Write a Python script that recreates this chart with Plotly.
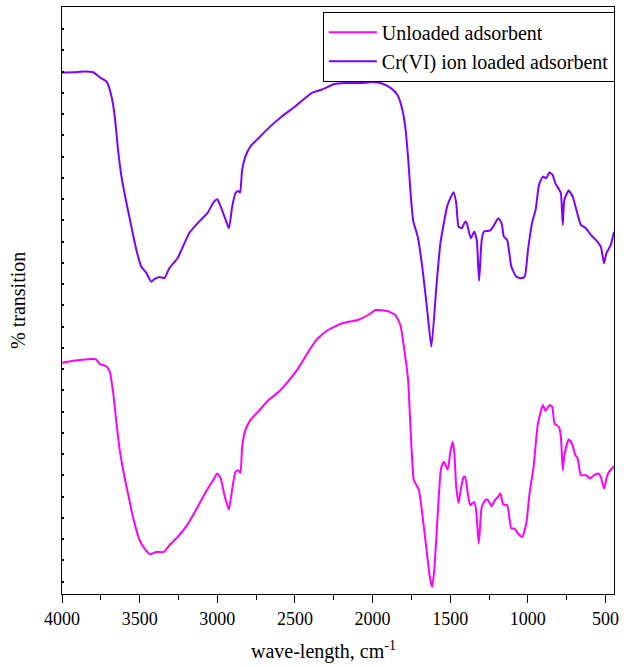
import plotly.graph_objects as go

# ---- data (wavenumber, cm^-1) and transmittance (arbitrary units) ----
wn_loaded = [4000, 3926, 3851, 3800, 3755, 3713, 3681, 3660, 3639, 3617, 3585, 3553, 3521,
             3489, 3457, 3425, 3404, 3372, 3340, 3308, 3255, 3180, 3117, 3064, 3021, 3000,
             2978, 2946, 2925, 2904, 2883, 2866, 2853, 2840, 2819, 2787, 2734, 2670, 2585,
             2499, 2393, 2330, 2244, 2180, 2074, 1999, 1935, 1882, 1840, 1808, 1787, 1770,
             1755, 1738, 1708, 1680, 1648, 1621, 1589, 1563, 1541, 1520, 1499, 1478, 1461,
             1446, 1425, 1404, 1393, 1367, 1346, 1329, 1314, 1297, 1283, 1244, 1223, 1190,
             1169, 1154, 1133, 1106, 1074, 1042, 1020, 999, 971, 950, 928, 903, 882, 861,
             840, 823, 797, 787, 775, 765, 737, 711, 690, 658, 626, 594, 562, 530, 509, 494,
             466, 445]
t_loaded = [527.3, 527.5, 528.3, 527.5, 522.3, 518.3, 503.3, 483.3, 450, 423.3, 397, 373.3, 350,
            333.3, 327, 318.3, 321, 323, 322, 332, 342, 367, 378.3, 386.7, 398.3, 400.7,
            393.3, 380, 371.7, 393.3, 406.7, 409, 407.3, 430, 443.3, 453.3, 461.7, 471.7, 483.3,
            493.3, 506.7, 510, 515.7, 516.7, 516.7, 517.7, 516, 511.7, 505, 490, 470, 440,
            406.7, 379, 362.5, 333.3, 290, 253.3, 313.3, 356.7, 376.7, 393.3, 401.7, 407.7, 396.7,
            373.3, 371.7, 378.3, 376.7, 361.7, 368.3, 360, 319.3, 360, 368.3, 369.3, 373.3, 381.7,
            376.7, 363.3, 360, 333.3, 323.3, 321.7, 323.3, 350, 378.3, 390, 415, 423.3, 421.7, 427.3,
            425, 416.7, 410, 406.7, 375, 400, 409.3, 403.3, 391.7, 375, 371.7, 365, 360, 353.3, 336.7, 346.7,
            355, 368.3]

wn_unloaded = [4000, 3926, 3798, 3781, 3755, 3717, 3692, 3670, 3649, 3628, 3602, 3575, 3543,
               3500, 3468, 3432, 3393, 3345, 3308, 3255, 3202, 3138, 3074, 3027, 3000, 2978,
               2951, 2925, 2908, 2883, 2866, 2851, 2840, 2819, 2787, 2734, 2670, 2606, 2542,
               2478, 2414, 2363, 2287, 2190, 2095, 2018, 1980, 1904, 1853, 1821, 1795, 1771,
               1755, 1734, 1717, 1701, 1680, 1652, 1631, 1616, 1601, 1580, 1559, 1541, 1516,
               1499, 1484, 1473, 1461, 1446, 1429, 1413, 1404, 1385, 1370, 1346, 1333, 1316,
               1297, 1275, 1260, 1233, 1212, 1195, 1176, 1159, 1133, 1106, 1085, 1063, 1036,
               1010, 989, 963, 935, 903, 886, 861, 843, 828, 800, 787, 775, 765, 737, 716, 694,
               679, 658, 626, 600, 573, 545, 530, 509, 494, 477, 445]
t_unloaded = [237.3, 239.3, 241, 240.7, 236, 234, 228.3, 206.7, 176.7, 150, 126.7, 106.7, 83.3,
              60, 51.7, 46, 48.3, 48.3, 55, 63.3, 73.3, 90, 108.3, 120, 126.7, 121.7,
              103.3, 90.7, 106.7, 128.3, 130, 127.3, 153.3, 170, 180, 189, 200, 208, 219,
              232, 248, 260, 270, 277, 280, 286, 290, 289, 285, 275, 250, 220,
              170, 120, 115, 110, 86.7, 50, 23.3, 13.3, 33.3, 86.7, 131.7, 138.3, 130.7,
              148.3, 158.3, 146.7, 113.3, 97.3, 113.3, 123.3, 123.3, 105, 95, 98.3, 90, 56.7,
              93.3, 100, 100.7, 94, 100, 102.7, 106.7, 96, 95, 71.7, 71.7, 66.7, 63.3,
              76.7, 106.7, 133.3, 176.7, 195, 189.3, 195, 193.3, 176.7, 173.3, 163.3, 130, 145, 160.7, 156.7, 145,
              141.7, 125, 125, 121.7, 125, 126.7, 123.3, 111.7, 121.7, 128.3, 134]

names = ["Unloaded adsorbent", "Cr(VI) ion loaded adsorbent"]
colors = ["#FF00FF", "#8000FF"]

FONT = "Liberation Serif, Times New Roman, serif"

fig = go.Figure()
fig.add_trace(go.Scatter(x=wn_unloaded, y=t_unloaded, mode="lines", name=names[0],
                         line=dict(color=colors[0], width=2, shape="spline", smoothing=0.5)))
fig.add_trace(go.Scatter(x=wn_loaded, y=t_loaded, mode="lines", name=names[1],
                         line=dict(color=colors[1], width=2, shape="spline", smoothing=0.5)))

fig.update_layout(
    width=624, height=667,
    margin=dict(l=62, r=5, t=7, b=73),
    paper_bgcolor="white", plot_bgcolor="white",
    font=dict(family=FONT, size=18, color="black"),
    showlegend=True,
    legend=dict(x=0.4725, y=0.992, xanchor="left", yanchor="top",
                bordercolor="black", borderwidth=1, bgcolor="white",
                font=dict(family=FONT, size=20, color="black"),
                itemwidth=48, tracegroupgap=0),
    xaxis=dict(range=[4000, 445], tickmode="linear", tick0=500, dtick=500,
               ticks="outside", ticklen=8, tickwidth=1.2, tickcolor="black",
               minor=dict(ticks="outside", ticklen=5, dtick=250, tick0=500, tickcolor="black", tickwidth=1.2),
               showline=True, linecolor="black", linewidth=1.3, mirror=True,
               showgrid=False, zeroline=False,
               tickfont=dict(family=FONT, size=18, color="black")),
    yaxis=dict(range=[6.3, 592.7], tickmode="linear", tick0=18.7, dtick=21.23,
               ticks="inside", ticklen=2, tickwidth=1.5, tickcolor="black",
               showticklabels=False,
               showline=True, linecolor="black", linewidth=1.3, mirror=True,
               showgrid=False, zeroline=False),
    annotations=[
        dict(text="wave-length, cm<sup>-1</sup>", xref="paper", yref="paper",
             x=0.474, y=0, yshift=-56, xanchor="center", yanchor="middle",
             showarrow=False, font=dict(family=FONT, size=20, color="black")),
        dict(text="% transition", xref="paper", yref="paper",
             x=-0.0807, y=0.5, xanchor="center", yanchor="middle", textangle=-90,
             showarrow=False, font=dict(family=FONT, size=20, color="black")),
    ],
)

fig.write_html("out.html")
